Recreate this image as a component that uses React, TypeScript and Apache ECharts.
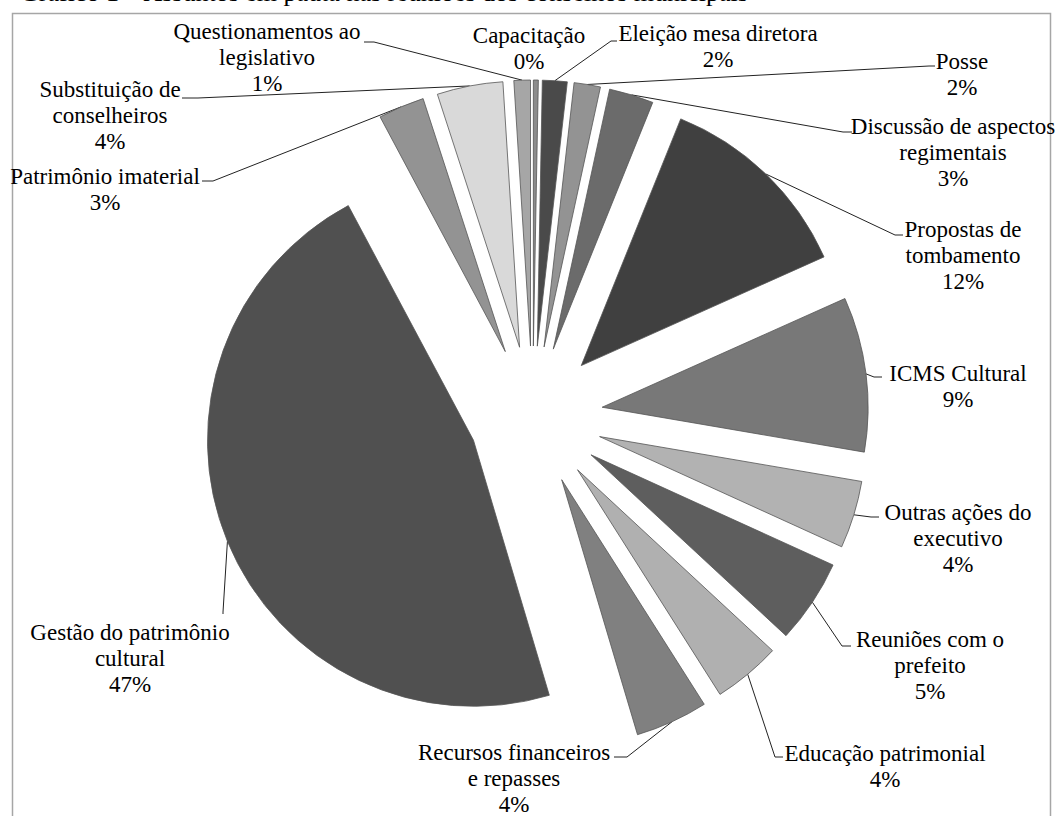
import React, { useEffect, useRef } from "react";
import * as echarts from "echarts";

const CATEGORIES = [
  "Capacitação",
  "Eleição mesa diretora",
  "Posse",
  "Discussão de aspectos regimentais",
  "Propostas de tombamento",
  "ICMS Cultural",
  "Outras ações do executivo",
  "Reuniões com o prefeito",
  "Educação patrimonial",
  "Recursos financeiros e repasses",
  "Gestão do patrimônio cultural",
  "Patrimônio imaterial",
  "Substituição de conselheiros",
  "Questionamentos ao legislativo",
];

const LABEL_TEXT = [
  "Capacitação",
  "Eleição mesa diretora",
  "Posse",
  "Discussão de aspectos\nregimentais",
  "Propostas de\ntombamento",
  "ICMS Cultural",
  "Outras ações do\nexecutivo",
  "Reuniões com o\nprefeito",
  "Educação patrimonial",
  "Recursos financeiros\ne repasses",
  "Gestão do patrimônio\ncultural",
  "Patrimônio imaterial",
  "Substituição de\nconselheiros",
  "Questionamentos ao\nlegislativo",
];

// percentage share of each topic
const VALUES = [0.3, 1.5, 1.6, 2.7, 12.2, 9.4, 4.1, 5.1, 4.1, 4.4, 46.8, 2.8, 4.0, 1.0];

const COLORS = [
  "#8c8c8c", "#4a4a4a", "#939393", "#6b6b6b", "#404040", "#787878", "#b2b2b2",
  "#5e5e5e", "#b0b0b0", "#808080", "#505050", "#939393", "#d9d9d9", "#a6a6a6",
];

// pie explosion distance (px) per slice
const EXPLODE = [70, 70, 70, 70, 70, 70, 70, 70, 70, 70, 64, 70, 70, 70];

// label block centres and leader-line anchors (layout only)
const LABEL_POS: [number, number][] = [
  [529, 48], [718, 46], [962, 74], [953, 152], [963, 255], [958, 386], [958, 538],
  [930, 665], [885, 766], [514, 778], [130, 658], [105, 189], [110, 115], [267, 57],
];
const LINE_ELBOW: ([number, number] | null)[] = [
  null, [611, 41], [929, 66], [843, 132], [895, 235], [874, 377], [871, 517],
  [842, 646], [775, 757], [627, 757], [223, 612], [213, 181], [198, 98], [374, 42],
];
const LINE_END: ([number, number] | null)[] = [
  null, [617, 41], [935, 66], [852, 132], [903, 235], [882, 377], [879, 517],
  [851, 646], [783, 757], [614, 757], [223, 614], [202, 181], [182, 98], [364, 42],
];

const TITLE = "Gráfico 1 – Assuntos em pauta nas reuniões dos conselhos municipais";
const CENTER: [number, number] = [532.7, 416];
const RADIUS = 266;

export default function App() {
  const ref = useRef<HTMLDivElement>(null);
  useEffect(() => {
    if (!ref.current) return;
    const chart = echarts.init(ref.current, undefined, { renderer: "svg" });
    const font = "'Liberation Serif', 'Times New Roman', serif";
    const total = VALUES.reduce((a, b) => a + b, 0);
    let cum = 0;
    const series = VALUES.map((v, i) => {
      const mid = ((cum + v / 2) / total) * 2 * Math.PI;
      cum += v;
      const off = EXPLODE[i];
      const c = [CENTER[0] + off * Math.sin(mid), CENTER[1] - off * Math.cos(mid)];
      return {
        type: "pie",
        center: c,
        radius: RADIUS,
        startAngle: 90,
        clockwise: true,
        silent: true,
        avoidLabelOverlap: false,
        emphasis: { disabled: true },
        label: {
          show: true,
          position: "outside",
          color: "#000",
          fontFamily: font,
          fontSize: 23,
          lineHeight: 26,
          align: "center",
          formatter: (p: any) =>
            LABEL_TEXT[p.dataIndex] + "\n" + Math.round(p.percent) + "%",
        },
        labelLine: { show: true, lineStyle: { color: "#222", width: 1 } },
        labelLayout: (params: any) => {
          const k = params.dataIndex;
          const pos = LABEL_POS[k];
          const res: any = { x: pos[0], y: pos[1], align: "center", verticalAlign: "middle" };
          const el = LINE_ELBOW[k];
          const en = LINE_END[k];
          if (el && en && params.labelLinePoints) {
            res.labelLinePoints = [params.labelLinePoints[0], el, en];
          }
          return res;
        },
        data: CATEGORIES.map((name, j) => ({
          name,
          value: VALUES[j],
          itemStyle:
            j === i
              ? { color: COLORS[j], borderColor: "#555555", borderWidth: 0.8 }
              : { color: "rgba(0,0,0,0)", borderWidth: 0 },
          label: { show: j === i },
          labelLine: { show: j === i && j !== 0 },
        })),
      };
    });
    chart.setOption({
      animation: false,
      backgroundColor: "#ffffff",
      graphic: [
        {
          type: "rect",
          z: -1,
          shape: { x: 12.5, y: 13.5, width: 1038, height: 830 },
          style: { fill: "none", stroke: "#a6a6a6", lineWidth: 1.5 },
        },
        {
          type: "text",
          x: 20,
          y: 5.5,
          style: {
            text: TITLE,
            font: "26px " + font,
            fill: "#000",
            verticalAlign: "bottom",
          },
        },
      ],
      series,
    });
    return () => chart.dispose();
  }, []);
  return (
    <div
      ref={ref}
      style={{ position: "absolute", left: 0, top: 0, width: 1057, height: 816 }}
    />
  );
}
